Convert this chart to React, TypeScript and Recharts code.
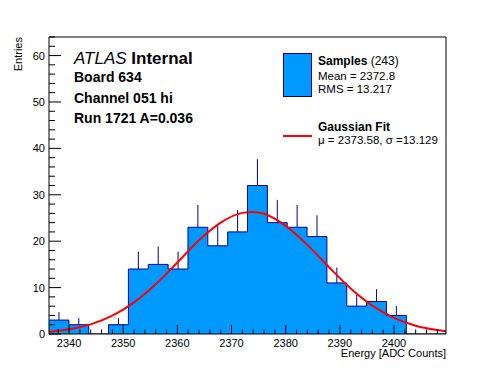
import {
  ComposedChart,
  Area,
  Line,
  Scatter,
  ErrorBar,
  XAxis,
  YAxis,
} from "recharts";

// histogram bins (20 bins)
const BIN_EDGES = [
  2336.3, 2339.97, 2343.63, 2347.3, 2350.96, 2354.63, 2358.29, 2361.96, 2365.62, 2369.29,
  2372.95, 2376.62, 2380.28, 2383.95, 2387.61, 2391.28, 2394.94, 2398.61, 2402.27, 2405.94,
  2409.6,
];
const BIN_COUNTS = [3, 2, 0, 2, 14, 15, 14, 23, 19, 22, 32, 24, 23, 21, 11, 6, 7, 4, 0, 0];

// gaussian fit curve
const FIT_X = [
  2336.3, 2340, 2344, 2348, 2352, 2356, 2360, 2364, 2368, 2372, 2374, 2376, 2380, 2384, 2388,
  2392, 2396, 2400, 2404, 2408, 2409.6,
];
const FIT_Y = [
  0.47, 1.0, 2.08, 3.94, 6.81, 10.7, 15.4, 20.2, 24.0, 26.1, 26.3, 25.9, 23.3, 19.2, 14.4, 9.8,
  6.1, 3.47, 1.79, 0.85, 0.61,
];

const X_DOMAIN = [2336.3, 2409.6];
const Y_DOMAIN = [0, 64];
const X_TICKS = [2338, 2340, 2342, 2344, 2346, 2348, 2350, 2352, 2354, 2356, 2358, 2360, 2362,
  2364, 2366, 2368, 2370, 2372, 2374, 2376, 2378, 2380, 2382, 2384, 2386, 2388, 2390, 2392, 2394,
  2396, 2398, 2400, 2402, 2404, 2406, 2408];
const Y_TICKS = [0, 2, 4, 6, 8, 10, 12, 14, 16, 18, 20, 22, 24, 26, 28, 30, 32, 34, 36, 38, 40,
  42, 44, 46, 48, 50, 52, 54, 56, 58, 60, 62, 64];

const FONT = "'Liberation Sans', Arial, Helvetica, sans-serif";
const FILL = "#0099ff";
const EDGE = "#000099";

const histData = BIN_EDGES.map((x, i) => ({ x, y: BIN_COUNTS[Math.min(i, BIN_COUNTS.length - 1)] }));
const errData = BIN_COUNTS.map((n, i) => ({
  x: (BIN_EDGES[i] + BIN_EDGES[i + 1]) / 2,
  y: n,
  err: [0, Math.sqrt(n)],
})).filter((d) => d.y > 0);
const fitData = FIT_X.map((x, i) => ({ x, y: FIT_Y[i] }));

function XTick({ x, y, payload }: any) {
  const major = payload.value % 10 === 0;
  return (
    <g>
      <line x1={x} x2={x} y1={y} y2={y - (major ? 9 : 4.5)} stroke="#000" />
      {major && (
        <text x={x} y={y + 13} textAnchor="middle" fontSize={11} fontFamily={FONT} fill="#000">
          {payload.value}
        </text>
      )}
    </g>
  );
}

function YTick({ x, y, payload }: any) {
  const major = payload.value % 10 === 0;
  return (
    <g>
      <line x1={x} x2={x + (major ? 12 : 6)} y1={y} y2={y} stroke="#000" />
      {major && (
        <text x={x - 4} y={y + 4} textAnchor="end" fontSize={11} fontFamily={FONT} fill="#000">
          {payload.value}
        </text>
      )}
    </g>
  );
}

export default function App() {
  return (
    <div style={{ position: "absolute", left: 0, top: 0, width: 496, height: 372, background: "#fff" }}>
      <ComposedChart width={496} height={372} margin={{ top: 36, right: 49, bottom: 37, left: 48 }}>
        <XAxis
          xAxisId="b"
          type="number"
          dataKey="x"
          domain={X_DOMAIN}
          allowDataOverflow
          ticks={X_TICKS}
          interval={0}
          height={1}
          tickSize={0}
          tickMargin={0}
          tickLine={false}
          tick={<XTick />}
          axisLine={{ stroke: "#000" }}
        />
        <XAxis xAxisId="t" orientation="top" type="number" domain={X_DOMAIN} allowDataOverflow height={1} tick={false} tickLine={false} axisLine={{ stroke: "#000" }} />
        <YAxis
          yAxisId="l"
          type="number"
          dataKey="y"
          domain={Y_DOMAIN}
          allowDataOverflow
          ticks={Y_TICKS}
          interval={0}
          width={1}
          tickSize={0}
          tickMargin={0}
          tickLine={false}
          tick={<YTick />}
          axisLine={{ stroke: "#000" }}
        />
        <YAxis yAxisId="r" orientation="right" type="number" domain={Y_DOMAIN} allowDataOverflow width={1} tick={false} tickLine={false} axisLine={{ stroke: "#000" }} />
        <Area
          xAxisId="b"
          yAxisId="l"
          data={histData}
          dataKey="y"
          type="stepAfter"
          fill={FILL}
          fillOpacity={1}
          stroke={EDGE}
          strokeWidth={1}
          isAnimationActive={false}
        />
        <Scatter
          xAxisId="b"
          yAxisId="l"
          data={errData}
          dataKey="y"
          shape={() => <g />}
          isAnimationActive={false}
        >
          <ErrorBar dataKey="err" direction="y" width={0} stroke={EDGE} strokeWidth={1} isAnimationActive={false} />
        </Scatter>
        <Line
          xAxisId="b"
          yAxisId="l"
          data={fitData}
          dataKey="y"
          type="monotone"
          stroke="#ff0000"
          strokeWidth={2}
          dot={false}
          isAnimationActive={false}
        />
      </ComposedChart>
      <svg
        width={496}
        height={372}
        style={{ position: "absolute", left: 0, top: 0, pointerEvents: "none" }}
        fontFamily={FONT}
      >
        <text transform="rotate(-90)" x={-37} y={22} textAnchor="end" fontSize={11}>Entries</text>
        <text x={446} y={357} textAnchor="end" fontSize={11}>Energy [ADC Counts]</text>
        <text x={74} y={64} fontSize={17}>
          <tspan fontStyle="italic">ATLAS</tspan>
          <tspan fontWeight="bold"> Internal</tspan>
        </text>
        <text x={74} y={82} fontSize={14} fontWeight="bold">Board 634</text>
        <text x={74} y={102.5} fontSize={14} fontWeight="bold">Channel 051 hi</text>
        <text x={74} y={123} fontSize={14} fontWeight="bold">Run 1721 A=0.036</text>
        <rect x={283.5} y={53.5} width={28} height={43} fill={FILL} stroke={EDGE} />
        <text x={318} y={65} fontSize={12}>
          <tspan fontWeight="bold">Samples</tspan>
          <tspan> (243)</tspan>
        </text>
        <text x={318} y={80} fontSize={11.5}>Mean = 2372.8</text>
        <text x={318} y={93} fontSize={11.5}>RMS = 13.217</text>
        <line x1={283} x2={312} y1={136} y2={136} stroke="#ff0000" strokeWidth={2} />
        <text x={318} y={131} fontSize={12} fontWeight="bold">Gaussian Fit</text>
        <text x={318} y={144} fontSize={11.5}>μ = 2373.58, σ =13.129</text>
      </svg>
    </div>
  );
}
